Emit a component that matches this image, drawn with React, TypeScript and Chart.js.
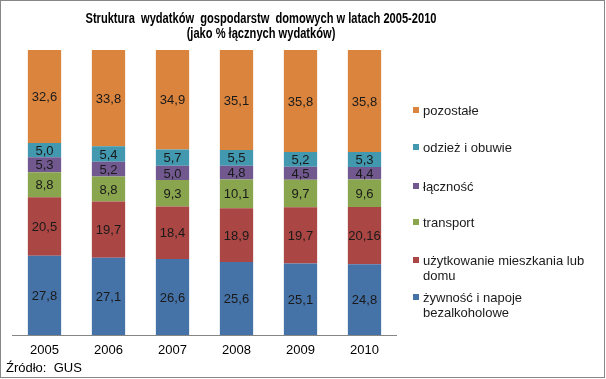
import React, { useEffect, useRef } from "react";
import { Chart, registerables } from "chart.js";

Chart.register(...registerables);

const years = ["2005", "2006", "2007", "2008", "2009", "2010"];
const zywnosc = [27.8, 27.1, 26.6, 25.6, 25.1, 24.8];
const uzytkowanie = [20.5, 19.7, 18.4, 18.9, 19.7, 20.16];
const transport = [8.8, 8.8, 9.3, 10.1, 9.7, 9.6];
const lacznosc = [5.3, 5.2, 5.0, 4.8, 4.5, 4.4];
const odziez = [5.0, 5.4, 5.7, 5.5, 5.2, 5.3];
const pozostale = [32.6, 33.8, 34.9, 35.1, 35.8, 35.8];

const titleLines = [
  "Struktura  wydatków  gospodarstw  domowych w latach 2005-2010",
  "(jako % łącznych wydatków)",
];
const sourceText = "Źródło:  GUS";

const seriesDefs = [
  { label: ["żywność i napoje", "bezalkoholowe"], data: zywnosc, color: "#4572A7" },
  { label: ["użytkowanie mieszkania lub", "domu"], data: uzytkowanie, color: "#AA4643" },
  { label: ["transport"], data: transport, color: "#89A54E" },
  { label: ["łączność"], data: lacznosc, color: "#71588F" },
  { label: ["odzież i obuwie"], data: odziez, color: "#4198AF" },
  { label: ["pozostałe"], data: pozostale, color: "#DB843D" },
];

const FONT = "'Liberation Sans', Arial, sans-serif";

export default function App() {
  const ref = useRef<HTMLCanvasElement>(null);
  useEffect(() => {
    if (!ref.current) return;
    const totals = years.map((_, i) =>
      seriesDefs.reduce((s, d) => s + d.data[i], 0)
    );
    const datasets = seriesDefs.map((d) => ({
      label: d.label.join(" "),
      data: d.data.map((v, i) => (v / totals[i]) * 100),
      backgroundColor: d.color,
      borderWidth: 0,
      categoryPercentage: 1,
      barPercentage: 0.52,
    }));

    const decor = {
      id: "decor",
      afterDraw(chart: any) {
        const ctx = chart.ctx;
        ctx.save();
        // frame
        ctx.strokeStyle = "#878787";
        ctx.lineWidth = 1;
        ctx.strokeRect(0.5, 0.5, 604, 377);
        // title (condensed)
        ctx.fillStyle = "#000";
        ctx.textAlign = "center";
        ctx.textBaseline = "middle";
        ctx.font = "bold 14px " + FONT;
        const w = ctx.measureText(titleLines[0]).width;
        const sx = 351 / w;
        ctx.save();
        ctx.translate(261, 0);
        ctx.scale(sx, 1);
        ctx.fillText(titleLines[0], 0, 19);
        ctx.fillText(titleLines[1], 0, 34);
        ctx.restore();
        // data labels
        ctx.font = "13px " + FONT;
        ctx.fillStyle = "#1a1a1a";
        chart.data.datasets.forEach((ds: any, di: number) => {
          const meta = chart.getDatasetMeta(di);
          meta.data.forEach((bar: any, i: number) => {
            const raw = seriesDefs[di].data[i];
            const y = (bar.y + bar.base) / 2;
            ctx.fillText(String(raw).replace(".", ",").replace(/^(\d+)$/, "$1,0"), bar.x, y + 1);
          });
        });
        // legend
        const legendY = [297, 260, 222, 186, 147, 110];
        ctx.textAlign = "left";
        seriesDefs.forEach((d, i) => {
          const y = legendY[i];
          ctx.fillStyle = d.color;
          ctx.fillRect(413, y - 3, 6, 6);
          ctx.fillStyle = "#1a1a1a";
          d.label.forEach((line, li) => {
            ctx.fillText(line, 423, y + li * 15 + 1);
          });
        });
        // source
        ctx.fillStyle = "#000";
        ctx.fillText(sourceText, 6, 368);
        ctx.restore();
      },
    };

    const chart = new Chart(ref.current, {
      type: "bar",
      data: { labels: years, datasets },
      options: {
        responsive: false,
        animation: false,
        layout: { padding: { left: 12.5, right: 209.5, top: 50, bottom: 0 } },
        plugins: {
          legend: { display: false },
          tooltip: { enabled: false },
          title: { display: false },
        },
        scales: {
          x: {
            stacked: true,
            grid: { display: false, drawTicks: false },
            border: { display: true, color: "#868686", width: 1 },
            ticks: { color: "#000", font: { family: FONT, size: 13 }, padding: 8 },
            afterFit: (s: any) => {
              s.height = 44;
            },
          },
          y: {
            stacked: true,
            display: false,
            min: 0,
            max: 100,
          },
        },
      },
      plugins: [decor],
    });
    return () => chart.destroy();
  }, []);
  return (
    <div style={{ position: "absolute", left: 0, top: 0, width: 606, height: 379, background: "#fff" }}>
      <canvas ref={ref} width={606} height={379} style={{ display: "block" }} />
    </div>
  );
}
